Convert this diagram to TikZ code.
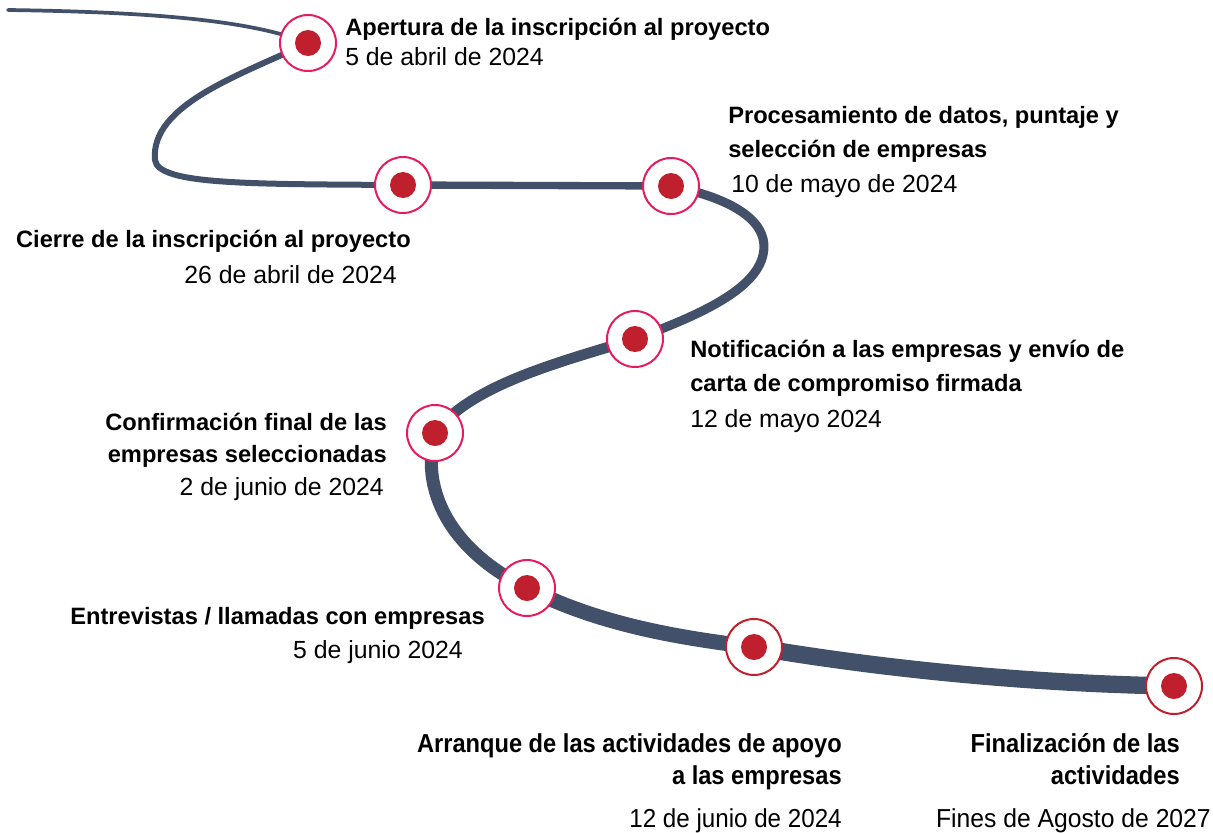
\documentclass[tikz,border=0pt]{standalone}
\usepackage{fontspec}
\setmainfont{Liberation Sans}
\usetikzlibrary{backgrounds}
\definecolor{camino}{RGB}{66,80,106}
\definecolor{aro}{RGB}{230,28,92}
\definecolor{arooscuro}{RGB}{192,32,46}
\definecolor{punto}{RGB}{192,32,46}
\newcommand{\angosto}[2][0.91]{\scalebox{#1}[1]{#2}}

\begin{document}
\begin{tikzpicture}[x=0.75pt,y=0.75pt,yscale=-1,xscale=1,
  hito/.style={circle,draw=aro,line width=1.5pt,fill=white,minimum size=42pt,inner sep=0pt,
    path picture={\fill[punto] (path picture bounding box.center) circle (9.75pt);}},
  titulo/.style={inner sep=0pt,font=\fontsize{17.75}{20}\selectfont\bfseries},
  fecha/.style={inner sep=0pt,font=\fontsize{18.6}{20}\selectfont},
  alto/.style={font=\fontsize{19.5}{22}\selectfont\bfseries},
  altofecha/.style={font=\fontsize{19.5}{22}\selectfont},
  tramo/.style={draw=camino,line cap=round}]
\useasboundingbox (0,0) rectangle (1213,832);

%Shape: Circle (hitos)
\node [hito] (m1) at (308,43) {};
\node [hito] (m2) at (403,185) {};
\node [hito] (m3) at (671,186) {};
\node [hito] (m4) at (635,339) {};
\node [hito] (m5) at (435,433) {};
\node [hito] (m6) at (527,588) {};
\node [hito,draw=arooscuro] (m7) at (754,647) {};
\node [hito,draw=arooscuro] (m8) at (1174,686) {};
\coordinate (inicio) at (8,10);

%Curve: camino
\begin{scope}[on background layer]
\draw [tramo,line width=2.8pt] (inicio) .. controls (150,12) and (250,20) .. (m1.center) ;
\draw [tramo,line width=4.5pt] (m1.center) .. controls (240,75) and (150,105) .. (155,160) .. controls (158,185) and (250,184) .. (m2.center) ;
\draw [tramo,line width=5.5pt] (m2.center) -- (m3.center) ;
\draw [tramo,line width=6.8pt] (m3.center) .. controls (740,200) and (770,225) .. (763,255) .. controls (755,290) and (700,315) .. (m4.center) ;
\draw [tramo,line width=8pt] (m4.center) .. controls (560,362) and (470,385) .. (m5.center) ;
\draw [tramo,line width=9.8pt] (m5.center) .. controls (420,490) and (450,550) .. (m6.center) ;
\draw [tramo,line width=11.3pt] (m6.center) .. controls (600,625) and (680,638) .. (m7.center) ;
\draw [tramo,line width=13pt] (m7.center) .. controls (900,672) and (1050,684) .. (m8.center) ;
\end{scope}

% Text Node
\node [titulo,anchor=base west] (t1) at (345,35) {Apertura de la inscripción al proyecto};
\node [fecha,anchor=base west] (f1) at (345,65) {5 de abril de 2024};
% Text Node
\node [titulo,anchor=base east] (t2) at (411,247) {Cierre de la inscripción al proyecto};
\node [fecha,anchor=base east] (f2) at (397,283) {26 de abril de 2024};
% Text Node
\node [titulo,anchor=base west] (t3a) at (728,123) {Procesamiento de datos, puntaje y};
\node [titulo,anchor=base west] (t3b) at (728,157) {selección de empresas};
\node [fecha,anchor=base west] (f3) at (731,192) {10 de mayo de 2024};
% Text Node
\node [titulo,anchor=base west] (t4a) at (690,357) {Notificación a las empresas y envío de};
\node [titulo,anchor=base west] (t4b) at (690,391) {carta de compromiso firmada};
\node [fecha,anchor=base west] (f4) at (690,427) {12 de mayo 2024};
% Text Node
\node [titulo,anchor=base east] (t5a) at (387,430) {Confirmación final de las};
\node [titulo,anchor=base east] (t5b) at (387,462) {empresas seleccionadas};
\node [fecha,anchor=base east] (f5) at (384,495) {2 de junio de 2024};
% Text Node
\node [titulo,anchor=base east] (t6) at (485,624) {Entrevistas / llamadas con empresas};
\node [fecha,anchor=base east] (f6) at (463,658) {5 de junio 2024};
% Text Node
\node [titulo,alto,anchor=base east] (t7a) at (842,752) {\angosto{Arranque de las actividades de apoyo}};
\node [titulo,alto,anchor=base east] (t7b) at (842,784) {\angosto{a las empresas}};
\node [fecha,altofecha,anchor=base east] (f7) at (842,827) {\angosto[0.93]{12 de junio de 2024}};
% Text Node
\node [titulo,alto,anchor=base east] (t8a) at (1180,752) {\angosto{Finalización de las}};
\node [titulo,alto,anchor=base east] (t8b) at (1180,784) {\angosto{actividades}};
\node [fecha,altofecha,anchor=base east] (f8) at (1211,827) {\angosto[0.95]{Fines de Agosto de 2027}};
\end{tikzpicture}
\end{document}
